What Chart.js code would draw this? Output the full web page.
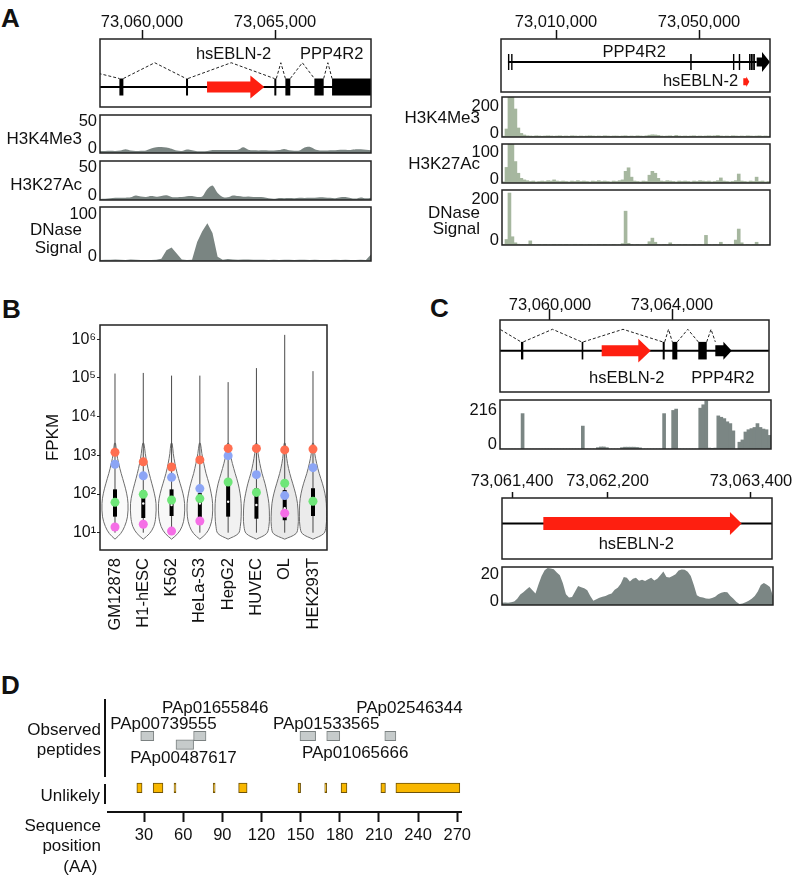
<!DOCTYPE html>
<html>
<head>
<meta charset="utf-8">
<script src="https://cdn.jsdelivr.net/npm/chart.js@4.4.1/dist/chart.umd.min.js"></script>
<style>
  html, body { margin: 0; padding: 0; background: #fff; }
  #page { position: relative; width: 794px; height: 877px; overflow: hidden; font-family: 'Liberation Sans', Arial, sans-serif; }
  #page canvas { position: absolute; }
  .panel { position: absolute; font-weight: bold; font-size: 26px; line-height: 26px; color: #111; }
</style>
</head>
<body>
<div id="page">
  <div class="panel" style="left:1px;top:5px">A</div>
  <div class="panel" style="left:2px;top:296px">B</div>
  <div class="panel" style="left:430px;top:295px">C</div>
  <div class="panel" style="left:1px;top:672px">D</div>
</div>
<script>
// ---------- panel A (left): 10 kb view around hsEBLN-2 ----------
const aLeftTicks = [73060000, 73065000];
const aLeftExonStart = [73059150, 73061655, 73064975, 73065390, 73066480, 73067145];
const aLeftExonEnd   = [73059300, 73061730, 73065050, 73065575, 73066830, 73068700];
const aLeftUpstream = 73054300;
const aLeftEbln = [73062445, 73064600];
// 54 bins across the view
const aLeftH3K4Me3 = [2.5,2.6,2.8,2.6,3.2,4.8,3.2,2.6,3.0,3.4,6.0,7.6,8.0,7.4,5.6,3.2,2.6,4.6,3.6,2.4,
  2.2,2.6,3.8,3.9,4.0,3.8,3.9,4.2,7.6,4.4,3.6,3.4,3.5,3.2,3.4,3.8,5.4,3.6,3.0,3.2,
  7.2,8.2,5.0,3.4,3.2,3.5,3.6,4.2,4.4,4.0,4.8,4.8,4.2,3.6];
const aLeftH3K27Ac = [1.3,1.5,2.2,2.8,2.8,3.0,3.4,5.8,4.5,4.0,5.0,4.2,5.2,6.0,4.0,3.6,3.8,4.8,5.0,3.8,
  4.5,14,18.5,9,4.0,3.4,5.8,5.0,4.2,4.6,4.0,3.8,3.5,2.2,1.5,2.6,2.4,2.6,2.4,2.8,
  2.6,2.8,3.0,3.4,3.2,2.8,2.4,3.6,3.8,2.6,1.8,3.2,2.2,3.0];
const aLeftDNase = [2,2.5,2.5,2.8,2.5,2,2.6,2.2,1.8,2,2,2.2,4,20,25,14,3,2,2.4,35,
  55,70,52,8,2.5,3.5,2.8,2.5,3,2.6,2.2,2.4,2.2,2,2.2,2,2.4,2.2,2,2.2,
  2.4,2,2.2,2,1.8,2,2.2,2,2.2,2,2,2.2,2,12];

// ---------- panel A (right): whole PPP4R2 locus ----------
const aRightTicks = [73010000, 73050000];
const aRightExonStart = [72996560, 72997450, 73047540, 73059500, 73061130, 73064000, 73064450, 73064900, 73065250];
const aRightExonEnd   = [72996840, 72997730, 73047960, 73059780, 73061410, 73064200, 73064650, 73065100, 73065450];
const aRightTail = [73066140, 73069860];
const aRightEbln = [73062390, 73064070];
// 90 bins across the view
const aRightH3K4Me3 = [4,40,200,200,140,45,18,10,6,
  5,4,6,5,4,5,6,5,4,5,6, 4,5,4,6,5,4,5,4,5,6, 5,4,5,4,6,5,4,5,5,4,
  5,6,4,5,4,6,5,4,6,9, 11,10,8,5,4,5,6,4,8,5, 4,5,4,5,6,4,5,4,5,6,
  5,6,8,5,4,5,4,6,5,4, 5,4,6,5,4,5,6,4,5,4];
const aRightH3K27Ac = [3,40,100,100,55,25,12,8,6,
  4,5,3,4,5,4,6,5,8,5,4, 5,4,3,5,4,6,4,5,4,3, 5,4,6,4,5,4,3,5,4,6,
  8,30,39,15,5,4,3,5,4,20, 30,25,12,5,4,6,5,4,3,5, 4,5,4,3,5,4,6,5,4,5,
  3,4,6,13,5,4,3,4,6,23, 5,4,3,5,4,15,4,5,3,4];
const aRightDNase = [2,20,189,30,8,3,2,2,1,
  15,2,1,2,1,2,1,1,2,1,2, 1,2,1,1,2,1,2,1,1,2, 1,1,2,1,2,1,1,2,1,1,
  5,123,6,2,1,2,1,1,2,12, 25,10,2,1,2,1,8,2,1,2, 1,2,1,1,2,1,2,1,35,2,
  1,2,1,10,2,1,2,1,18,58, 8,1,2,1,2,10,1,2,1,2];

// ---------- panel B: expression per cell line ----------
const cellLines = ['GM12878', 'H1-hESC', 'K562', 'HeLa-S3', 'HepG2', 'HUVEC', 'OL', 'HEK293T'];
const fpkmTicks = [10, 100, 1000, 10000, 100000, 1000000];
const fpkmLow  = [10, 10, 10, 10, 10, 10, 10, 10];
const fpkmHigh = [130000, 135000, 115000, 115000, 78000, 180000, 1300000, 150000];
const fpkmQ1 = [26, 24, 27, 23, 26, 23, 21, 27];
const fpkmQ3 = [132, 126, 132, 105, 170, 141, 126, 141];
const fpkmMedian = [57, 57, 52, 57, 63, 52, 43, 63];
const orangeDots = [1200, 680, 500, 760, 1510, 1510, 1380, 1450];
const blueDots   = [590, 295, 270, 138, 980, 316, 91, 480];
const greenDots  = [61, 98, 70, 76, 204, 110, 190, 65];
const pinkDots   = [14, 16.5, 11, 20, null, null, 32, null];
const violinLevels = [6.8, 9.5, 14.5, 25.7, 57.5, 105, 190, 339, 617, 1122, 2042];
const violinWidth = [
  [0, 0.20, 0.34, 0.44, 0.46, 0.41, 0.32, 0.22, 0.13, 0.06, 0.02],
  [0, 0.22, 0.37, 0.44, 0.45, 0.39, 0.30, 0.21, 0.13, 0.07, 0.02],
  [0, 0.22, 0.37, 0.45, 0.46, 0.40, 0.30, 0.20, 0.12, 0.06, 0.02],
  [0, 0.22, 0.36, 0.44, 0.45, 0.40, 0.32, 0.22, 0.14, 0.07, 0.02],
  [0, 0.36, 0.43, 0.46, 0.46, 0.42, 0.35, 0.25, 0.15, 0.07, 0.02],
  [0, 0.36, 0.44, 0.46, 0.44, 0.38, 0.30, 0.20, 0.12, 0.06, 0.02],
  [0, 0.40, 0.47, 0.48, 0.45, 0.38, 0.28, 0.18, 0.10, 0.05, 0.02],
  [0, 0.38, 0.46, 0.48, 0.47, 0.42, 0.33, 0.22, 0.13, 0.06, 0.02]
];

// ---------- panel C: zoomed views with RNA coverage ----------
const cTopTicks = [73060000, 73064000];
const cTopExonStart = [73059049, 73061039, 73063695, 73064010, 73064862];
const cTopExonEnd   = [73059125, 73061092, 73063761, 73064174, 73065138];
const cTopUpstream = 73057673;
const cTopTail = [73065420, 73065957];
const cTopEbln = [73061695, 73063302];
const cTopCoverage = [0,0,0,0,0,0,0,156,0,0, 0,0,0,0,0,0,0,0,0,0, 0,0,0,0,0,0,0,101,0,0,
  0,0,6,9,9,6,0,0,0,0, 6,8,8,8,8,7,5,0,0,0, 0,0,0,0,156,0,0,170,176,0,
  0,0,0,0,0,0,180,195,212,4, 3,4,146,140,134,120,112,80,0,30, 40,75,85,90,95,112,95,88,85,60];
const cBottomTicks = [73061400, 73062200, 73063400];
const cBottomEbln = [73061662, 73063322];
const cBottomCoverage = [1.2,1.4,1.2,1.5,2,3.5,5.8,7,8.6,10, 8.2,6.4,11.5,16,19.2,20.4,20.2,19.8,18,16.5,
  12,6,4.2,4.4,7.5,10.5,9.8,9.2,8.2,5, 2.4,3.2,4,4.6,5,5.8,6.4,8.4,9.5,11.8,
  15.5,15,13,14.5,15,13.4,14,13.2,14.2,15, 13.5,14.5,16.5,18.5,15.5,15.2,16,17,19,19.6,
  19.5,18.4,16,11,5.4,4.4,4.2,3.6,3.4,3.8, 4.6,6,6.8,7.2,7,5,3.5,1.6,0.5,0.8,
  1.5,2.4,3.4,5,7.5,11,12.2,11.2,10,5];

// ---------- panel D: peptides along the protein ----------
const aaTicks = [30, 60, 90, 120, 150, 180, 210, 240, 270];
const peptideIds   = ['PAp00739555', 'PAp01655846', 'PAp01533565', 'PAp01065666', 'PAp02546344', 'PAp00487617'];
const peptideStart = [27.5, 68, 149.5, 170, 214.5, 54.5];
const peptideEnd   = [37.5, 77.5, 161.5, 180, 223, 68];
const peptideRow   = [0, 0, 0, 0, 0, 1];
const unlikelyStart = [24.5, 37, 53, 83, 102.5, 148, 168.5, 181, 211.5, 223];
const unlikelyEnd   = [28.5, 44.5, 54.5, 84.5, 109, 150, 170, 185.5, 215, 272];

// ---------- helpers ----------
const FONT = "'Liberation Sans', Arial, Helvetica, sans-serif";
Chart.defaults.font.family = FONT;
Chart.defaults.color = '#111';

function mount(box, pad) {
  const cv = document.createElement('canvas');
  const w = box.w + pad.l + pad.r, h = box.h + pad.t + pad.b;
  cv.width = w; cv.height = h;
  cv.style.left = (box.x - pad.l) + 'px';
  cv.style.top = (box.y - pad.t) + 'px';
  cv.style.width = w + 'px';
  cv.style.height = h + 'px';
  document.getElementById('page').appendChild(cv);
  return cv;
}

function frame(color, width) {
  return {id: 'frame', afterDraw(chart) {
    const a = chart.chartArea, c = chart.ctx;
    c.save();
    c.strokeStyle = color; c.lineWidth = width;
    c.strokeRect(a.left, a.top, a.right - a.left, a.bottom - a.top);
    c.restore();
  }};
}

// text placed relative to the plot box
function sideText(items) {
  return {id: 'sideText', afterDraw(chart) {
    const a = chart.chartArea, c = chart.ctx;
    c.save();
    c.fillStyle = '#111';
    items.forEach(it => {
      c.font = (it.size || 17) + 'px ' + FONT;
      c.textAlign = it.align || 'right';
      c.textBaseline = it.baseline || 'middle';
      c.fillText(it.text, a.left + it.dx, a.top + it.dy);
    });
    c.restore();
  }};
}

// text placed in data coordinates
function notes(items) {
  return {id: 'notes', afterDatasetsDraw(chart) {
    const c = chart.ctx, x = chart.scales.x, y = chart.scales.y;
    c.save();
    c.fillStyle = '#111';
    items.forEach(n => {
      c.font = (n.size || 16.5) + 'px ' + FONT;
      c.textAlign = n.align || 'center';
      c.textBaseline = n.baseline || 'middle';
      c.fillText(n.text, x.getPixelForValue(n.x), y.getPixelForValue(n.y));
    });
    c.restore();
  }};
}

// exons and block arrows of a gene model
function glyphs(spec) {
  return {id: 'glyphs', afterDatasetsDraw(chart) {
    const c = chart.ctx, a = chart.chartArea, x = chart.scales.x, y = chart.scales.y;
    c.save();
    c.beginPath(); c.rect(a.left, a.top, a.right - a.left, a.bottom - a.top); c.clip();
    const yb = y.getPixelForValue(spec.base);
    const eh = yb - y.getPixelForValue(spec.base + spec.exonHalf);
    c.fillStyle = '#000';
    spec.exons.forEach(([s, e]) => {
      const x0 = x.getPixelForValue(s), x1 = x.getPixelForValue(e);
      c.fillRect(x0, yb - eh, Math.max(1.4, x1 - x0), 2 * eh);
    });
    spec.arrows.forEach(ar => {
      const yc = y.getPixelForValue(ar.level);
      const bh = yc - y.getPixelForValue(ar.level + ar.bodyHalf);
      const hh = yc - y.getPixelForValue(ar.level + ar.headHalf);
      const x0 = x.getPixelForValue(ar.from), x1 = x.getPixelForValue(ar.to);
      const xh = Math.max(x0, x1 - ar.headLen);
      c.fillStyle = ar.color;
      c.beginPath();
      c.moveTo(x0, yc - bh); c.lineTo(xh, yc - bh); c.lineTo(xh, yc - hh); c.lineTo(x1, yc);
      c.lineTo(xh, yc + hh); c.lineTo(xh, yc + bh); c.lineTo(x0, yc + bh);
      c.closePath(); c.fill();
    });
    c.restore();
  }};
}

function chainIntrons(starts, ends, upstream) {
  const out = [];
  if (upstream != null) out.push([upstream, starts[0]]);
  for (let i = 1; i < starts.length; i++) out.push([ends[i - 1], starts[i]]);
  return out;
}

function geneTrack(box, pad, t) {
  const cv = mount(box, pad);
  const top = t.base + t.exonHalf;
  const intronPts = [];
  t.introns.forEach(([s, e]) => {
    intronPts.push({x: s, y: top}, {x: (s + e) / 2, y: t.apex}, {x: e, y: top}, {x: e, y: null});
  });
  new Chart(cv, {
    type: 'line',
    data: {datasets: [
      {data: [{x: t.lineFrom, y: t.base}, {x: t.lineTo, y: t.base}], borderColor: '#000', borderWidth: 2, pointRadius: 0},
      {data: intronPts, borderColor: '#222', borderWidth: 1, borderDash: [3, 2], pointRadius: 0, spanGaps: false}
    ]},
    options: {
      responsive: false, animation: false, devicePixelRatio: 1, events: [],
      layout: {padding: {left: pad.l, right: pad.r, top: 0, bottom: pad.b}},
      scales: {
        x: {type: 'linear', position: 'top', min: t.min, max: t.max,
          afterBuildTicks: s => { s.ticks = t.ticks.map(v => ({value: v})); },
          afterFit: s => { s.height = pad.t; s.paddingLeft = 0; s.paddingRight = 0; },
          grid: {drawOnChartArea: false, drawTicks: true, tickLength: t.tickLen, tickWidth: 1.5, tickColor: '#111'},
          border: {display: false},
          ticks: {padding: t.tickPad, autoSkip: false, maxRotation: 0, color: '#111', font: {size: 16.5},
            callback: v => v.toLocaleString('en-US')}},
        y: {display: false, min: 0, max: 1}
      },
      plugins: {legend: {display: false}, tooltip: {enabled: false}}
    },
    plugins: [glyphs({base: t.base, exonHalf: t.exonHalf, exons: t.exons, arrows: t.arrows}), notes(t.names), frame('#222', 1.5)]
  });
}

function signalTrack(box, pad, t) {
  const cv = mount(box, pad);
  const yw = 36;
  new Chart(cv, {
    type: t.kind,
    data: {labels: t.values.map((v, i) => i), datasets: [{
      data: t.values, backgroundColor: t.color, borderColor: t.color, borderWidth: 0, fill: 'start',
      pointRadius: 0, tension: t.tension || 0, barPercentage: 1, categoryPercentage: 1}]},
    options: {
      responsive: false, animation: false, devicePixelRatio: 1, events: [],
      layout: {padding: {left: pad.l - yw, right: pad.r, top: pad.t, bottom: pad.b}},
      scales: {
        x: {display: false},
        y: {min: 0, max: t.max, grid: {display: false, drawTicks: false}, border: {display: false},
          afterBuildTicks: s => { s.ticks = [{value: 0}, {value: t.top}]; },
          afterFit: s => { s.width = yw; s.paddingTop = 0; s.paddingBottom = 0; },
          ticks: {autoSkip: false, padding: 3, color: '#111', font: {size: 16.5, lineHeight: '2px'},
            callback: (v, i) => i === 0 ? ['0'].concat(Array(t.lowShift).fill(''))
                                        : Array(t.highShift).fill('').concat([String(v)])}}
      },
      plugins: {legend: {display: false}, tooltip: {enabled: false}}
    },
    plugins: [frame('#222', 1.5), sideText(t.names)]
  });
}

const RED = '#fe1f10';
const GREY_L = '#7a8582';
const GREY_R = '#a6b79f';
const GREY_C = '#7b8684';

// ---------- panel A, left ----------
geneTrack({x: 100, y: 39, w: 271, h: 68}, {l: 10, t: 39, r: 9, b: 3}, {
  min: 73058421, max: 73068609, ticks: aLeftTicks, tickLen: 9, tickPad: -2,
  base: 0.294, exonHalf: 0.125, apex: 0.651,
  lineFrom: aLeftUpstream, lineTo: 73068700,
  exons: aLeftExonStart.map((s, i) => [s, aLeftExonEnd[i]]),
  introns: chainIntrons(aLeftExonStart, aLeftExonEnd, aLeftUpstream),
  arrows: [{from: aLeftEbln[0], to: aLeftEbln[1], level: 0.294, bodyHalf: 0.081, headHalf: 0.169, headLen: 14, color: RED}],
  names: [{text: 'hsEBLN-2', x: 73063440, y: 0.77}, {text: 'PPP4R2', x: 73067132, y: 0.77}]
});
const padAL = {l: 100, t: 2, r: 7, b: 2};
signalTrack({x: 100, y: 115, w: 271, h: 38}, padAL, {kind: 'line', values: aLeftH3K4Me3, max: 50, top: 50,
  highShift: 6, lowShift: 5, color: GREY_L, tension: 0.3, names: [{text: 'H3K4Me3', dx: -18, dy: 24}]});
signalTrack({x: 100, y: 161, w: 271, h: 39}, padAL, {kind: 'line', values: aLeftH3K27Ac, max: 50, top: 50,
  highShift: 6, lowShift: 5, color: GREY_L, tension: 0.3, names: [{text: 'H3K27Ac', dx: -18, dy: 24.5}]});
signalTrack({x: 100, y: 207, w: 271, h: 54}, padAL, {kind: 'line', values: aLeftDNase, max: 100, top: 100,
  highShift: 7, lowShift: 5, color: GREY_L, tension: 0,
  names: [{text: 'DNase', dx: -18, dy: 23}, {text: 'Signal', dx: -18, dy: 41}]});

// ---------- panel A, right ----------
geneTrack({x: 501, y: 39, w: 269, h: 53}, {l: 21, t: 39, r: 24, b: 3}, {
  min: 72994615, max: 73069860, ticks: aRightTicks, tickLen: 9, tickPad: -2,
  base: 0.566, exonHalf: 0.151, apex: 0.9,
  lineFrom: aRightExonStart[0], lineTo: aRightTail[0],
  exons: aRightExonStart.map((s, i) => [s, aRightExonEnd[i]]),
  introns: [],
  arrows: [
    {from: aRightTail[0], to: aRightTail[1], level: 0.566, bodyHalf: 0.085, headHalf: 0.19, headLen: 8, color: '#000'},
    {from: aRightEbln[0], to: aRightEbln[1], level: 0.194, bodyHalf: 0.066, headHalf: 0.1, headLen: 3, color: RED}
  ],
  names: [{text: 'PPP4R2', x: 73031874, y: 0.755}, {text: 'hsEBLN-2', x: 73050420, y: 0.2}]
});
const padAR = {l: 107, t: 2, r: 24, b: 2};
signalTrack({x: 502, y: 97, w: 268, h: 40}, padAR, {kind: 'bar', values: aRightH3K4Me3, max: 200, top: 200,
  highShift: 9, lowShift: 4, color: GREY_R, names: [{text: 'H3K4Me3', dx: -22, dy: 21}]});
signalTrack({x: 502, y: 144, w: 268, h: 39}, padAR, {kind: 'bar', values: aRightH3K27Ac, max: 100, top: 100,
  highShift: 8, lowShift: 4, color: GREY_R, names: [{text: 'H3K27Ac', dx: -22, dy: 20}]});
signalTrack({x: 502, y: 190, w: 268, h: 55}, padAR, {kind: 'bar', values: aRightDNase, max: 200, top: 200,
  highShift: 9, lowShift: 5, color: GREY_R,
  names: [{text: 'DNase', dx: -22, dy: 23}, {text: 'Signal', dx: -22, dy: 39}]});

// ---------- panel C ----------
const cTopParts = {s: cTopExonStart.concat([cTopTail[0]]), e: cTopExonEnd.concat([cTopTail[1]])};
geneTrack({x: 500, y: 320, w: 269, h: 72}, {l: 40, t: 30, r: 25, b: 3}, {
  min: 73058361, max: 73067180, ticks: cTopTicks, tickLen: 11, tickPad: -6,
  base: 0.574, exonHalf: 0.122, apex: 0.871,
  lineFrom: 73050000, lineTo: 73070000,
  exons: cTopExonStart.map((s, i) => [s, cTopExonEnd[i]]),
  introns: chainIntrons(cTopParts.s, cTopParts.e, cTopUpstream),
  arrows: [
    {from: cTopEbln[0], to: cTopEbln[1], level: 0.574, bodyHalf: 0.076, headHalf: 0.164, headLen: 12.4, color: RED},
    {from: cTopTail[0], to: cTopTail[1], level: 0.574, bodyHalf: 0.076, headHalf: 0.125, headLen: 8.3, color: '#000'}
  ],
  names: [{text: 'hsEBLN-2', x: 73062515, y: 0.1875}, {text: 'PPP4R2', x: 73065666, y: 0.1875}]
});
signalTrack({x: 500, y: 400, w: 271, h: 49}, {l: 40, t: 2, r: 23, b: 2}, {kind: 'bar', values: cTopCoverage,
  max: 216, top: 216, highShift: 10, lowShift: 5, color: GREY_C, names: []});

geneTrack({x: 502, y: 498, w: 270, h: 61}, {l: 42, t: 33, r: 22, b: 3}, {
  min: 73061316, max: 73063576, ticks: cBottomTicks, tickLen: 6, tickPad: 1,
  base: 0.582, exonHalf: 0.1, apex: 0.9,
  lineFrom: 73061000, lineTo: 73064000,
  exons: [], introns: [],
  arrows: [{from: cBottomEbln[0], to: cBottomEbln[1], level: 0.582, bodyHalf: 0.107, headHalf: 0.19, headLen: 11.7, color: RED}],
  names: [{text: 'hsEBLN-2', x: 73062440, y: 0.243}]
});
signalTrack({x: 502, y: 567, w: 271, h: 38}, {l: 42, t: 2, r: 21, b: 2}, {kind: 'line', values: cBottomCoverage,
  max: 21, top: 20, highShift: 6, lowShift: 4, color: GREY_C, tension: 0, names: []});

// ---------- panel B: violins ----------
const sup = ['\u2070', '\u00b9', '\u00b2', '\u00b3', '\u2074', '\u2075', '\u2076'];
const violinFill = ['#fafafa', '#f8f8f8', '#f8f8f8', '#f7f7f7', '#f1f1f1', '#efefef', '#e9e9e9', '#ebebeb'];

function violinPoints(c, widths) {
  const right = violinLevels.map((v, i) => ({x: c + widths[i], y: v}));
  const left = violinLevels.map((v, i) => ({x: c - widths[i], y: v})).reverse();
  return right.concat(left);
}
function dots(values, color) {
  const pts = [];
  values.forEach((v, i) => { if (v != null) pts.push({x: i + 1, y: v}); });
  return {data: pts, showLine: false, pointRadius: 4.5, pointBackgroundColor: color, pointBorderWidth: 0, order: 0};
}

const bDatasets = [];
cellLines.forEach((name, i) => {
  bDatasets.push({data: violinPoints(i + 1, violinWidth[i]), borderColor: '#6d6d6d', borderWidth: 1,
    backgroundColor: violinFill[i], fill: 'shape', tension: 0.35, pointRadius: 0, order: 4});
  bDatasets.push({data: [{x: i + 1, y: fpkmLow[i]}, {x: i + 1, y: fpkmHigh[i]}], borderColor: '#4a4a4a',
    borderWidth: 1, pointRadius: 0, fill: false, order: 3});
  bDatasets.push({data: [{x: i + 1, y: fpkmQ1[i]}, {x: i + 1, y: fpkmQ3[i]}], borderColor: '#000',
    borderWidth: 4, pointRadius: 0, fill: false, order: 2});
});
bDatasets.push({data: fpkmMedian.map((v, i) => ({x: i + 1, y: v})), showLine: false, pointRadius: 1.2,
  pointBackgroundColor: '#fff', pointBorderWidth: 0, order: 1});
bDatasets.push(dots(orangeDots, '#ff6e50'));
bDatasets.push(dots(blueDots, '#8ca5f5'));
bDatasets.push(dots(greenDots, '#6ee678'));
bDatasets.push(dots(pinkDots, '#f56ee6'));

new Chart(mount({x: 100, y: 325, w: 227, h: 225}, {l: 100, t: 10, r: 13, b: 100}), {
  type: 'line',
  data: {datasets: bDatasets},
  options: {
    responsive: false, animation: false, devicePixelRatio: 1, events: [],
    layout: {padding: {left: 39, right: 13, top: 10, bottom: 0}},
    scales: {
      x: {type: 'linear', min: 0.47, max: 8.495, grid: {display: false, drawTicks: false}, border: {display: false},
        afterBuildTicks: s => { s.ticks = cellLines.map((n, i) => ({value: i + 1})); },
        afterFit: s => { s.height = 100; s.paddingLeft = 0; s.paddingRight = 0; },
        ticks: {autoSkip: false, minRotation: 90, maxRotation: 90, padding: 8, color: '#111', font: {size: 16.5},
          callback: v => cellLines[v - 1]}},
      y: {type: 'logarithmic', min: 3.57, max: 2340000,
        grid: {drawOnChartArea: false, drawTicks: true, tickLength: 3, tickColor: '#222'}, border: {display: false},
        afterBuildTicks: s => { s.ticks = fpkmTicks.map(v => ({value: v})); },
        afterFit: s => { s.width = 61; s.paddingTop = 0; s.paddingBottom = 0; },
        ticks: {autoSkip: false, padding: 1, color: '#111', font: {size: 16},
          callback: v => '10' + sup[Math.round(Math.log10(v))]},
        title: {display: true, text: 'FPKM', color: '#111', font: {size: 17}, padding: {top: 4, bottom: 0}}}
    },
    plugins: {legend: {display: false}, tooltip: {enabled: false}}
  },
  plugins: [frame('#222', 1.5)]
});

// ---------- panel D: peptide map ----------
const dRowLevel = [78.5, 68.5];
const dUnlikelyLevel = 18;
const dBars = peptideStart.map((s, i) => ({x: [s, peptideEnd[i]], y: dRowLevel[peptideRow[i]], kind: 'p'}))
  .concat(unlikelyStart.map((s, i) => ({x: [s, unlikelyEnd[i]], y: dUnlikelyLevel, kind: 'u'})));
const peptideLabelAt = [
  {id: 'PAp00739555', x: 44.9, y: 86.5},
  {id: 'PAp01655846', x: 84.5, y: 105.8},
  {id: 'PAp01533565', x: 169.6, y: 86.5},
  {id: 'PAp01065666', x: 191.8, y: 53.1},
  {id: 'PAp02546344', x: 233.4, y: 105.8},
  {id: 'PAp00487617', x: 60.2, y: 46.5}
];
const dRules = {id: 'dRules', afterDraw(chart) {
  const a = chart.chartArea, c = chart.ctx;
  c.save();
  c.strokeStyle = '#111'; c.lineWidth = 2;
  c.beginPath();
  c.moveTo(a.left - 3, a.top + 9); c.lineTo(a.left - 3, a.top + 87);
  c.moveTo(a.left - 3, a.top + 94); c.lineTo(a.left - 3, a.top + 114);
  c.stroke();
  c.restore();
}};

new Chart(mount({x: 108, y: 690, w: 353, h: 122}, {l: 108, t: 10, r: 39, b: 65}), {
  type: 'bar',
  data: {datasets: [{
    data: dBars,
    backgroundColor: ctx => (ctx.raw && ctx.raw.kind === 'u') ? '#f8b700' : '#c6cbcb',
    borderColor: ctx => (ctx.raw && ctx.raw.kind === 'u') ? '#6e5208' : '#7b8181',
    borderWidth: 1, borderSkipped: false, barThickness: 9.5
  }]},
  options: {
    indexAxis: 'y',
    responsive: false, animation: false, devicePixelRatio: 1, events: [],
    layout: {padding: {left: 108, right: 39, top: 10, bottom: 0}},
    scales: {
      x: {type: 'linear', position: 'bottom', min: 2.4, max: 272.9,
        afterBuildTicks: s => { s.ticks = aaTicks.map(v => ({value: v})); },
        afterFit: s => { s.height = 65; s.paddingLeft = 0; s.paddingRight = 0; },
        grid: {drawOnChartArea: false, drawTicks: true, tickLength: 10, tickWidth: 2, tickColor: '#111'},
        border: {display: true, width: 2, color: '#111'},
        ticks: {autoSkip: false, maxRotation: 0, padding: 4, color: '#111', font: {size: 16.5}}},
      y: {type: 'linear', display: false, min: 0, max: 122}
    },
    plugins: {legend: {display: false}, tooltip: {enabled: false}}
  },
  plugins: [
    notes(peptideLabelAt.map(p => ({text: p.id, x: p.x, y: p.y, baseline: 'alphabetic', size: 17}))),
    sideText([
      {text: 'Observed', dx: -7, dy: 44.5, baseline: 'alphabetic'},
      {text: 'peptides', dx: -7, dy: 64.5, baseline: 'alphabetic'},
      {text: 'Unlikely', dx: -8, dy: 110.5, baseline: 'alphabetic'},
      {text: 'Sequence', dx: -7, dy: 140.5, baseline: 'alphabetic'},
      {text: 'position', dx: -7, dy: 161, baseline: 'alphabetic'},
      {text: '(AA)', dx: -10.7, dy: 182, baseline: 'alphabetic'}
    ]),
    dRules
  ]
});
</script>
</body>
</html>
